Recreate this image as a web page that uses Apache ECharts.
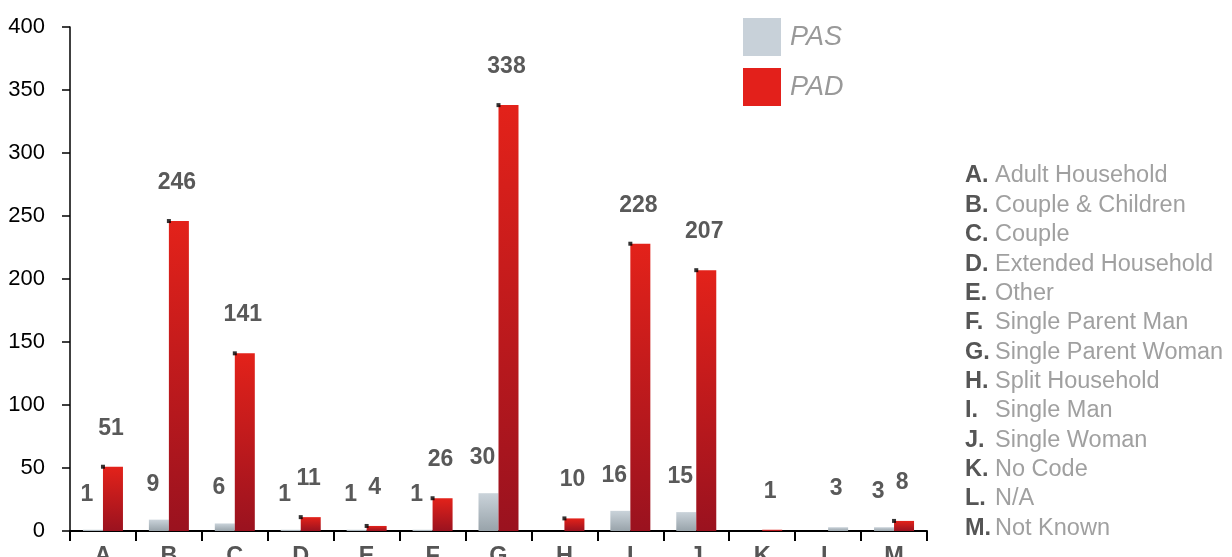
<!DOCTYPE html>
<html><head><meta charset="utf-8">
<script src="https://cdn.jsdelivr.net/npm/echarts@6/dist/echarts.min.js"></script>
<style>html,body{margin:0;padding:0;background:#fff}#c{width:1232px;height:557px}</style>
</head><body><div id="c"></div>
<script>
const categories = ['A','B','C','D','E','F','G','H','I','J','K','L','M'];
const pasValues = [1, 9, 6, 1, 1, 1, 30, null, 16, 15, null, null, 3];
const padValues = [51, 246, 141, 11, 4, 26, 338, 10, 228, 207, 1, 3, 8];
const greyPadCategories = ['L'];
const dotCategories = ['A','B','C','D','E','F','G','H','I','J','M'];
const yTicks = [0, 50, 100, 150, 200, 250, 300, 350, 400];
const keyLetters = ['A.','B.','C.','D.','E.','F.','G.','H.','I.','J.','K.','L.','M.'];
const keyNames = ['Adult Household','Couple & Children','Couple','Extended Household','Other','Single Parent Man','Single Parent Woman','Split Household','Single Man','Single Woman','No Code','N/A','Not Known'];

const FONT = '"Liberation Sans", Arial, sans-serif';
const redGrad = new echarts.graphic.LinearGradient(0,0,0,1,[{offset:0,color:'#e3221a'},{offset:1,color:'#9a121f'}]);
const greyGrad = new echarts.graphic.LinearGradient(0,0,0,1,[{offset:0,color:'#cad3da'},{offset:1,color:'#98a3aa'}]);

const chart = echarts.init(document.getElementById('c'), null, {renderer:'canvas'});

const graphics = [];
keyLetters.forEach((l,i)=>{
  const y = 175 + i*29.35;
  graphics.push({type:'text', left:965, top:y-11, style:{text:l, font:'bold 23.5px '+FONT, fill:'#555'}});
  graphics.push({type:'text', left:995, top:y-11, style:{text:keyNames[i], font:'23.5px '+FONT, fill:'#a0a0a0'}});
});

chart.setOption({
  animation:false,
  textStyle:{fontFamily:FONT},
  grid:{left:70, right:305, top:27, bottom:26, containLabel:false, outerBoundsMode:'none'},
  legend:{
    orient:'vertical', left:743, top:18, padding:0, itemWidth:38, itemHeight:38, itemGap:12,
    icon:'rect',
    textStyle:{fontStyle:'italic', fontSize:27, color:'#999', fontFamily:FONT, padding:[3,0,0,4]},
    data:[{name:'PAS', itemStyle:{color:'#c8d1d9'}},{name:'PAD', itemStyle:{color:'#e3201b'}}]
  },
  xAxis:{
    type:'category', data:categories,
    axisLine:{lineStyle:{color:'#000', width:2}},
    axisTick:{show:true, length:10, lineStyle:{color:'#000', width:2}},
    axisLabel:{fontSize:23.5, fontWeight:'bold', color:'#555', margin:14, fontFamily:FONT}
  },
  yAxis:{
    type:'value', min:yTicks[0], max:yTicks[yTicks.length-1], interval:yTicks[1]-yTicks[0],
    splitLine:{show:false},
    axisLine:{show:true, lineStyle:{color:'#000', width:1.5}},
    axisTick:{show:true, length:8, lineStyle:{color:'#000', width:1.5}},
    axisLabel:{fontSize:22, color:'#000', margin:25, fontFamily:FONT}
  },
  graphic:graphics,
  series:[
    {
      name:'PAS', type:'bar', barWidth:20, barGap:'0%',
      data:pasValues,
      itemStyle:{color:greyGrad},
      label:{show:true, position:'top', distance:24, offset:[-6,0], fontSize:23, fontWeight:'bold', color:'#595959', fontFamily:FONT}
    },
    {
      name:'PAD', type:'bar', barWidth:20, barGap:'0%',
      data:padValues.map((v,i)=> greyPadCategories.includes(categories[i]) ? {value:v, itemStyle:{color:greyGrad}} : v),
      itemStyle:{color:redGrad},
      label:{show:true, position:'top', distance:27, offset:[-2,0], fontSize:23, fontWeight:'bold', color:'#595959', fontFamily:FONT}
    },
    {
      name:'dots', type:'scatter', symbol:'rect', symbolSize:4, z:5,
      itemStyle:{color:'#000'}, silent:true,
      data:categories.map((c,i)=> dotCategories.includes(c) ? [c, padValues[i]] : [c, null])
    }
  ]
});
</script></body></html>
